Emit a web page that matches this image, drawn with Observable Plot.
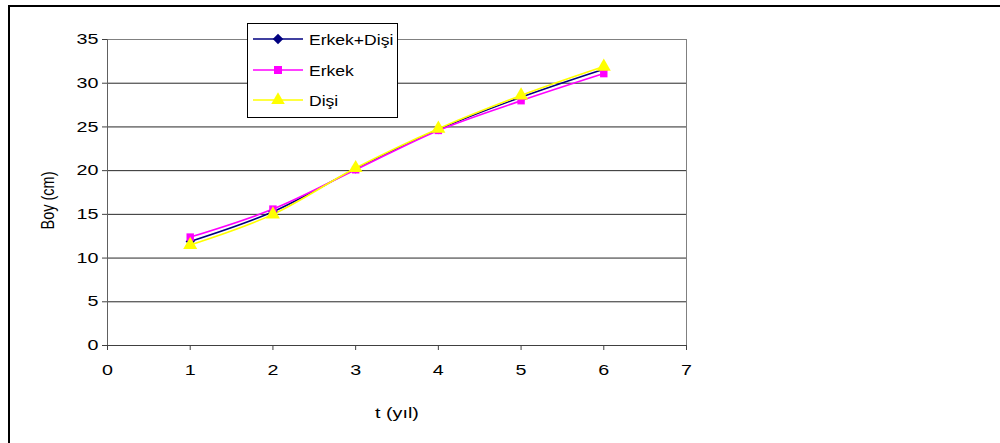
<!DOCTYPE html>
<html>
<head>
<meta charset="utf-8">
<script src="https://cdn.jsdelivr.net/npm/d3@7"></script>
<script src="https://cdn.jsdelivr.net/npm/@observablehq/plot@0.6"></script>
<style>
  html, body { margin: 0; padding: 0; background: #fff; width: 1000px; height: 443px; overflow: hidden; }
  #wrap { position: relative; width: 1000px; height: 443px; }
  #outer { position: absolute; left: 8px; top: 5px; width: 1100px; height: 600px; border: 2px solid #000; box-sizing: border-box; pointer-events: none; }
  #legend { position: absolute; left: 247px; top: 23px; width: 151px; height: 95px; border: 1px solid #000; background: #fff; box-sizing: border-box; font-family: "Liberation Sans", Arial, sans-serif; font-size: 15px; color: #000; }
  .row { position: absolute; left: 5px; height: 20px; display: flex; align-items: center; }
  .row svg { display: block; }
  .row span { margin-left: 6px; display: inline-block; transform: scaleX(1.17); transform-origin: left center; }
</style>
</head>
<body>
<div id="wrap"></div>
<script>
// Data
const years = [1, 2, 3, 4, 5, 6];
const erkekDisi = [11.9, 15.3, 20.2, 24.7, 28.4, 31.6];
const erkek = [12.4, 15.6, 20.1, 24.6, 28.0, 31.1];
const disi = [11.5, 15.0, 20.3, 24.8, 28.6, 31.9];
const seriesNames = ["Erkek+Dişi", "Erkek", "Dişi"];
const xTicks = [0, 1, 2, 3, 4, 5, 6, 7];
const yTicks = [0, 5, 10, 15, 20, 25, 30, 35];

const styles = {
  "Erkek+Dişi": {color: "#000080", symbol: "diamond2", r: 4.2},
  "Erkek": {color: "#FF00FF", symbol: "square", r: 4.2},
  "Dişi": {color: "#FFFF00", symbol: "triangle", r: 5.2}
};
const valuesBy = {"Erkek+Dişi": erkekDisi, "Erkek": erkek, "Dişi": disi};
const rows = seriesNames.map(name => years.map((t, i) => ({t, v: valuesBy[name][i], name})));

const font = "'Liberation Sans', Arial, sans-serif";
const marks = [
  Plot.gridY(yTicks.filter(d => d > 0 && d < 35), {stroke: "#000", strokeOpacity: 0.85, strokeWidth: 1}),
  Plot.frame({stroke: "#808080", strokeWidth: 1}),
  Plot.ruleX([0], {stroke: "#606060"}),
  Plot.ruleY([0], {stroke: "#404040"}),
  Plot.axisY({ticks: yTicks, tickFormat: d3.format("d"), tickSize: 5, tickPadding: 4, fontSize: 14.5, label: null, stroke: "#404040"}),
  Plot.axisX({ticks: xTicks, tickFormat: d3.format("d"), tickSize: 5, tickPadding: 14, fontSize: 14.5, label: "t (yıl)", labelAnchor: "center", labelOffset: 72, labelArrow: "none", stroke: "#404040"}),
  Plot.text(["Boy (cm)"], {frameAnchor: "left", textAnchor: "middle", rotate: -90, dx: -60, dy: 8, fontSize: 14.5, fill: "#000"})
];
for (const r of rows) {
  const s = styles[r[0].name];
  marks.push(Plot.line(r, {x: "t", y: "v", stroke: s.color, strokeWidth: 1.6, curve: "catmull-rom"}));
}
for (const r of rows) {
  const s = styles[r[0].name];
  marks.push(Plot.dot(r, {x: "t", y: "v", symbol: () => s.symbol, fill: s.color, stroke: "none", r: s.r}));
}

const chart = Plot.plot({
  width: 1000,
  height: 443,
  marginLeft: 107,
  marginRight: 314,
  marginTop: 39,
  marginBottom: 98,
  style: {fontFamily: font, fontSize: "14px", color: "#000", background: "transparent"},
  x: {domain: [0, 7]},
  y: {domain: [0, 35]},
  symbol: {type: "identity"},
  marks
});
const wrap = document.getElementById("wrap");
wrap.appendChild(chart);
chart.style.position = "absolute";
chart.style.left = "0px";
chart.style.top = "0px";

// The reference's lettering is horizontally widened; mimic it.
chart.querySelectorAll('g[aria-label="x-axis tick label"] text, g[aria-label="y-axis tick label"] text, g[aria-label="x-axis label"] text').forEach(t => {
  const tr = t.getAttribute("transform") || "";
  t.setAttribute("transform", tr + " scale(1.36,1)");
});
chart.querySelectorAll('g[aria-label="text"] text').forEach(t => {
  const tr = t.getAttribute("transform") || "";
  t.setAttribute("transform", tr + " scale(1,1.3)");
});

const outer = document.createElement("div");
outer.id = "outer";
wrap.appendChild(outer);

// Legend
const legend = document.createElement("div");
legend.id = "legend";
const sym = {
  "diamond2": d3.symbol(d3.symbolDiamond2, 70),
  "square": d3.symbol(d3.symbolSquare, 64),
  "triangle": d3.symbol(d3.symbolTriangle, 80)
};
const rowTops = [5, 36, 66];
seriesNames.forEach((name, i) => {
  const s = styles[name];
  const row = document.createElement("div");
  row.className = "row";
  row.style.top = rowTops[i] + "px";
  row.innerHTML = `<svg width="50" height="20"><line x1="0" x2="50" y1="10" y2="10" stroke="${s.color}" stroke-width="1.6"/><path transform="translate(25,10)" d="${sym[s.symbol]()}" fill="${s.color}"/></svg><span>${name}</span>`;
  legend.appendChild(row);
});
wrap.appendChild(legend);
</script>
</body>
</html>
